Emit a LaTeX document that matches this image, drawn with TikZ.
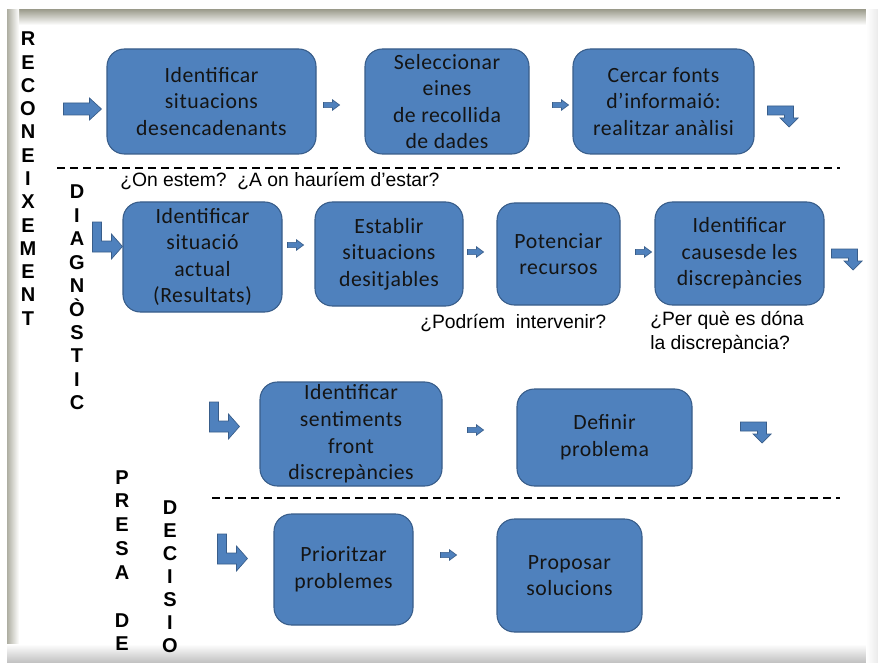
\documentclass[tikz,border=0pt]{standalone}
\usepackage{fontspec}
\usetikzlibrary{calc}
\newfontfamily\boxfont[LetterSpace=2.5]{Carlito}
\newfontfamily\askfont{Liberation Sans}
\newfontfamily\stackfont{Liberation Sans}
\definecolor{boxblue}{RGB}{79,129,189}
\definecolor{boxedge}{RGB}{56,93,138}
\definecolor{framegrey}{RGB}{160,160,145}

\begin{document}
\begin{tikzpicture}[x=0.75pt,y=-0.75pt,
  stepbox/.style={draw=boxedge, line width=0.8pt, fill=boxblue, rounded corners=13pt,
    inner sep=0pt, align=center, text=black!92,
    font=\boxfont\fontsize{16.3}{19.9}\selectfont},
  sz/.style 2 args={minimum width=#1*0.75pt, minimum height=#2*0.75pt},
  ask/.style={inner sep=0pt, align=left, font=\askfont\fontsize{14.5}{18}\selectfont},
  stackletter/.style={inner sep=0pt, text height=10.5pt, text depth=0pt,
    font=\stackfont\bfseries\fontsize{15}{15}\selectfont},
  blockarrow/.style={fill=boxblue, draw=boxedge, line width=0.5pt, line join=miter},
  divider/.style={dash pattern=on 6pt off 3.75pt, line width=1.1pt},
  % straight block arrow pointing right, origin at the tail centre
  pics/arrowright/.style={code={
    \draw[blockarrow] (0,-2.6) -- (9,-2.6) -- (9,-5.2) -- (16,0) -- (9,5.2) -- (9,2.6) -- (0,2.6) -- cycle;}},
  % wide entry arrow
  pics/bigarrow/.style={code={
    \draw[blockarrow] (0,-6) -- (26,-6) -- (26,-11) -- (38,0) -- (26,11) -- (26,6) -- (0,6) -- cycle;}},
  % bent arrow: down, then right (origin at top-left)
  pics/downright/.style={code={
    \draw[blockarrow] (0,0) -- (9,0) -- (9,19) -- (19,19) -- (19,12) -- (30,24.5) -- (19,37) -- (19,30) -- (0,30) -- cycle;}},
  % bent arrow: right, then down (origin at top-left)
  pics/rightdown/.style={code={
    \draw[blockarrow] (0,0) -- (26,0) -- (26,12) -- (30.5,12) -- (21.5,21) -- (12.5,12) -- (17,12) -- (17,9) -- (0,9) -- cycle;}},
]
\useasboundingbox (0,0) rectangle (878,663);

% panel with soft inner shadow
\fill[white] (0,0) rectangle (878,663);
\shade[top color=framegrey, bottom color=white] (7,10) rectangle (878,25);
\shade[left color=framegrey!85, right color=white] (7,10) rectangle (19,663);
\shade[top color=white, bottom color=black!25] (7,644) rectangle (878,663);
\shade[left color=white, right color=black!8] (866,10) rectangle (878,663);

% stage names, one letter per line
\foreach \c [count=\i from 0] in {R,E,C,O,N,E,I,X,E,M,E,N,T}
  \node[stackletter] (rec\i) at (28,39+23.25*\i) {\c};
\foreach \c [count=\i from 0] in {D,I,A,G,N,Ò,S,T,I,C}
  \node[stackletter] (diag\i) at (77,192+23.4*\i) {\c};
\foreach \c [count=\i from 0] in {P,R,E,S,A}
  \node[stackletter] (pres\i) at (122,477+23.8*\i) {\c};
\node[stackletter] (pres5) at (122,620) {D};
\node[stackletter] (pres6) at (122,643) {E};
\foreach \c [count=\i from 0] in {D,E,C,I,S,I,O}
  \node[stackletter] (deci\i) at (170,507+23*\i) {\c};

% steps
\node[stepbox, sz={209}{105}] (b1) at (211.5,101.5) {Identificar\\situacions\\desencadenants};
\node[stepbox, sz={164}{105}] (b2) at (447,101.5) {Seleccionar\\eines\\de recollida\\de dades};
\node[stepbox, sz={181}{105}] (b3) at (663.5,101.5) {Cercar fonts\\d’informaió:\\realitzar anàlisi};

\node[stepbox, sz={159}{110}] (b4) at (202.5,257) {Identificar\\situació\\actual\\(Resultats)};
\node[stepbox, sz={148}{104}] (b5) at (389,254) {Establir\\situacions\\desitjables};
\node[stepbox, sz={123}{102}] (b6) at (558.5,254) {Potenciar\\recursos};
\node[stepbox, sz={169}{103}] (b7) at (739.5,253.5) {Identificar\\causesde les\\discrepàncies};

\node[stepbox, sz={182}{104}] (b8) at (351,434) {Identificar\\sentiments\\front\\discrepàncies};
\node[stepbox, sz={175}{97}] (b9) at (604.5,437.5) {Definir\\problema};

\node[stepbox, sz={139}{111}] (b10) at (343.5,569.5) {Prioritzar\\problemes};
\node[stepbox, sz={145}{113}] (b11) at (569.5,575.5) {Proposar\\solucions};

% questions
\node[ask, anchor=base west] (q1) at (120,187) {¿On estem?\ \ ¿A on hauríem d’estar?};
\node[ask, anchor=base west] (q2) at (420,328) {¿Podríem\ \ intervenir?};
\node[ask, anchor=base west] (q3) at (650,349) {¿Per què es dóna\\la discrepància?};

% phase dividers
\draw[divider] (57,168) -- (840,168);
\draw[divider] (212,498) -- (840,498);

% flow arrows
\pic at ($(b1.west)+(-43,7.5)$) {bigarrow};
\pic at ($(b1.east)+(7,3.5)$) {arrowright};
\pic at ($(b2.east)+(23,3.5)$) {arrowright};
\pic at ($(b3.east)+(13,4.5)$) {rightdown};

\pic at ($(b4.west)+(-30,-35)$) {downright};
\pic at ($(b4.east)+(5,-12)$) {arrowright};
\pic at ($(b5.east)+(4,-2)$) {arrowright};
\pic at ($(b6.east)+(15,-2)$) {arrowright};
\pic at ($(b7.east)+(7,-4.5)$) {rightdown};

\pic at ($(b8.west)+(-50,-32)$) {downright};
\pic at ($(b8.east)+(25,-4)$) {arrowright};
\pic at ($(b9.east)+(48,-15.5)$) {rightdown};

\pic at ($(b10.west)+(-56,-35.5)$) {downright};
\pic at ($(b10.east)+(27,-14.5)$) {arrowright};
\end{tikzpicture}
\end{document}
